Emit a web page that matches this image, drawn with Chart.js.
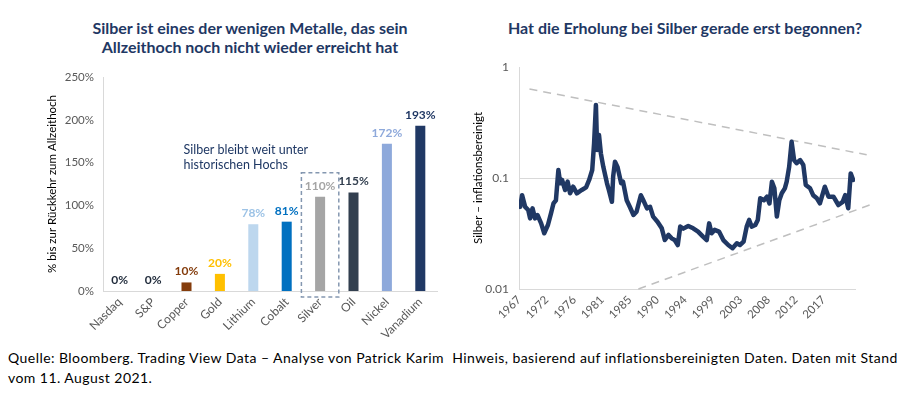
<!DOCTYPE html>
<html>
<head>
<meta charset="utf-8">
<script src="https://cdn.jsdelivr.net/npm/chart.js@4.4.1/dist/chart.umd.min.js"></script>
<style>
  html, body { margin: 0; padding: 0; background: #fff; }
  body { width: 919px; height: 397px; position: relative; overflow: hidden; font-family: Lato, "Open Sans", sans-serif; }
  .title { position: absolute; color: #1F3864; font-weight: bold; font-size: 16px; line-height: 19px; text-align: center; }
  #leftTitle { left: 40px; width: 420px; top: 18px; }
  #rightTitle { left: 460px; width: 450px; top: 18px; }
  .box { position: absolute; top: 0; height: 340px; }
  #leftBox { left: 0; width: 460px; }
  #rightBox { left: 460px; width: 459px; }
  #footer { position: absolute; left: 8px; top: 348px; width: 911px; font-size: 14px; letter-spacing: 0.45px; line-height: 20px; color: #000; white-space: nowrap; }
</style>
</head>
<body>
<div class="title" id="leftTitle">Silber ist eines der wenigen Metalle, das sein<br>Allzeithoch noch nicht wieder erreicht hat</div>
<div class="title" id="rightTitle">Hat die Erholung bei Silber gerade erst begonnen?</div>
<div class="box" id="leftBox"><canvas id="barChart" width="460" height="340"></canvas></div>
<div class="box" id="rightBox"><canvas id="lineChart" width="459" height="340"></canvas></div>
<div id="footer">Quelle: Bloomberg. Trading View Data – Analyse von Patrick Karim&nbsp; Hinweis, basierend auf inflationsbereinigten Daten. Daten mit Stand<br>vom 11. August 2021.</div>
<script>
// --- Balken: % bis zur Rueckkehr zum Allzeithoch
const metals = ["Nasdaq", "S&P", "Copper", "Gold", "Lithium", "Cobalt", "Silver", "Oil", "Nickel", "Vanadium"];
const pctToAth = [0, 0, 10, 20, 78, 81, 110, 115, 172, 193];
const barColors = ["#404040", "#404040", "#843C0C", "#FFC000", "#BDD7EE", "#0070C0", "#A5A5A5", "#323F4F", "#8EA9DB", "#203864"];
const labelColors = ["#1F2A3A", "#1F2A3A", "#843C0C", "#FFC000", "#9DC3E6", "#0070C0", "#A5A5A5", "#323F4F", "#8EA9DB", "#203864"];
const noteLines = ["Silber bleibt weit unter", "historischen Hochs"];

// --- Linie: Silber inflationsbereinigt (log)
const silverYears = [1967.0, 1967.2, 1967.5, 1968.0, 1968.5, 1968.8, 1969.2, 1969.6, 1970.0, 1970.6, 1971.1, 1971.7,
  1972.2, 1972.6, 1973.0, 1973.4, 1973.7, 1974.0, 1974.5, 1974.9, 1975.3, 1975.8, 1976.4, 1977.2, 1977.9, 1978.4,
  1978.9, 1979.2, 1979.5, 1979.7, 1980.0, 1980.3, 1980.7, 1981.3, 1981.6, 1982.1, 1982.3, 1982.6, 1983.0, 1983.6,
  1983.9, 1984.5, 1985.0, 1985.6, 1986.1, 1986.8, 1987.2, 1987.8, 1988.3, 1988.8, 1989.5, 1990.2, 1990.7, 1991.3,
  1991.8, 1992.3, 1992.8, 1993.2, 1993.7, 1994.5, 1995.3, 1996.1, 1996.9, 1997.5, 1997.9, 1998.3, 1998.8, 1999.5,
  2000.2, 2001.0, 2001.7, 2002.4, 2002.9, 2003.5, 2004.0, 2004.4, 2004.8, 2005.4, 2005.8, 2006.2, 2006.8, 2007.3,
  2007.7, 2008.1, 2008.5, 2008.9, 2009.3, 2009.7, 2010.2, 2010.5, 2010.9, 2011.3, 2011.7, 2012.1, 2012.7, 2013.2,
  2013.6, 2014.3, 2014.8, 2015.4, 2015.9, 2016.7, 2017.3, 2018.1, 2018.9, 2019.6, 2020.0, 2020.5, 2020.9, 2021.3,
  2021.6];
const silverReal = [0.058, 0.055, 0.070, 0.055, 0.0515, 0.0433, 0.0533, 0.0433, 0.0464, 0.039, 0.0318, 0.0377,
  0.048, 0.059, 0.063, 0.118, 0.0896, 0.096, 0.078, 0.0927, 0.0728, 0.0835, 0.0728, 0.078, 0.0824, 0.096,
  0.118, 0.205, 0.455, 0.179, 0.244, 0.167, 0.126, 0.0896, 0.078, 0.061, 0.103, 0.14, 0.126, 0.0896,
  0.0927, 0.063, 0.055, 0.0464, 0.0497, 0.070, 0.063, 0.0533, 0.055, 0.0449, 0.0404, 0.0352, 0.0276, 0.0307,
  0.0286, 0.0276, 0.0249, 0.0365, 0.035, 0.037, 0.0352, 0.0329, 0.0296, 0.0276, 0.039, 0.0318, 0.0341, 0.0329,
  0.0276, 0.0249, 0.0233, 0.0258, 0.0249, 0.0267, 0.0365, 0.0419, 0.0365, 0.0377, 0.0419, 0.0656, 0.063, 0.0679,
  0.059, 0.0927, 0.0807, 0.0449, 0.063, 0.0728, 0.0807, 0.0927, 0.126, 0.212, 0.145, 0.136, 0.145, 0.131,
  0.0865, 0.0807, 0.070, 0.0656, 0.059, 0.0835, 0.0679, 0.0679, 0.0571, 0.061, 0.070, 0.0533, 0.110, 0.096,
  0.099];
const upperTrend = [{ x: 1968.7, y: 0.634 }, { x: 2023.5, y: 0.162 }];
const lowerTrend = [{ x: 1986.4, y: 0.01 }, { x: 2024.6, y: 0.0587 }];
const yearTicks = [1967, 1971.5, 1976, 1980.5, 1985, 1989.5, 1994, 1998.5, 2003, 2007.5, 2012, 2016.5];
const yearTickLabels = ["1967", "1972", "1976", "1981", "1985", "1990", "1994", "1999", "2003", "2008", "2012", "2017"];
const logTicks = [0.01, 0.1, 1];
const logTickLabels = ["0.01", "0.1", "1"];

const FONT = "Lato, 'Open Sans', sans-serif";
const tickGrey = "#595959";
const axisGrey = "#D9D9D9";

Chart.defaults.font.family = FONT;
Chart.defaults.animation = false;

const barLabels = {
  id: "barLabels",
  afterDatasetsDraw(chart) {
    const { ctx, scales: { x, y } } = chart;
    const bars = chart.getDatasetMeta(0).data;
    ctx.save();
    ctx.font = "bold 12px " + FONT;
    ctx.textAlign = "center";
    ctx.textBaseline = "bottom";
    bars.forEach((bar, i) => {
      ctx.fillStyle = labelColors[i];
      ctx.fillText(pctToAth[i] + "%", bar.x, bar.y - 5);
    });
    // Notiz
    ctx.font = "12.5px " + FONT;
    ctx.fillStyle = "#1F3864";
    ctx.textAlign = "left";
    ctx.textBaseline = "middle";
    const nx = x.getPixelForValue(2) - 3;
    ctx.fillText(noteLines[0], nx, y.getPixelForValue(165));
    ctx.fillText(noteLines[1], nx, y.getPixelForValue(147));
    // gestrichelter Rahmen um Silber
    const s = bars[metals.indexOf("Silver")];
    const half = (x.getPixelForValue(1) - x.getPixelForValue(0)) * 0.56;
    const top = y.getPixelForValue(138);
    const bottom = y.getPixelForValue(0) + 6;
    ctx.strokeStyle = "#8497B0";
    ctx.lineWidth = 1.5;
    ctx.setLineDash([4, 3]);
    ctx.strokeRect(s.x - half, top, half * 2, bottom - top);
    ctx.restore();
  }
};

new Chart(document.getElementById("barChart"), {
  type: "bar",
  data: {
    labels: metals,
    datasets: [{
      data: pctToAth,
      backgroundColor: barColors,
      borderWidth: 0,
      categoryPercentage: 1,
      barPercentage: 0.3
    }]
  },
  options: {
    responsive: false,
    layout: { padding: { top: 77, right: 23, left: 0, bottom: 0 } },
    plugins: { legend: { display: false }, tooltip: { enabled: false } },
    scales: {
      x: {
        grid: { display: false, drawTicks: false },
        border: { color: axisGrey, width: 1 },
        ticks: { color: tickGrey, font: { size: 12 }, minRotation: 45, maxRotation: 45, padding: 4 },
        afterFit: (s) => { s.height = 49; }
      },
      y: {
        min: 0, max: 250,
        grid: { display: false, drawTicks: false },
        border: { color: axisGrey, width: 1 },
        ticks: { stepSize: 50, color: tickGrey, font: { size: 11.5 }, padding: 9, callback: (v) => v + "%" },
        title: { display: true, text: "% bis zur Rückkehr zum Allzeithoch", color: "#000", font: { size: 11.5 }, padding: { top: 45, bottom: 0 } },
        afterFit: (s) => { s.width = 103; }
      }
    }
  },
  plugins: [barLabels]
});

new Chart(document.getElementById("lineChart"), {
  type: "line",
  data: {
    datasets: [
      {
        data: silverYears.map((yr, i) => ({ x: yr, y: silverReal[i] })),
        borderColor: "#203864",
        borderWidth: 4.5,
        pointRadius: 0,
        tension: 0,
        borderJoinStyle: "round",
        order: 1
      },
      {
        data: upperTrend,
        borderColor: "#BFBFBF",
        borderWidth: 1.5,
        borderDash: [8, 6],
        pointRadius: 0,
        clip: false,
        order: 2
      },
      {
        data: lowerTrend,
        borderColor: "#BFBFBF",
        borderWidth: 1.5,
        borderDash: [8, 6],
        pointRadius: 0,
        clip: false,
        order: 2
      }
    ]
  },
  options: {
    responsive: false,
    layout: { padding: { top: 67, right: 64, left: 0, bottom: 0 } },
    plugins: { legend: { display: false }, tooltip: { enabled: false } },
    scales: {
      x: {
        type: "linear",
        min: 1967, max: 2021.6,
        grid: { display: false, drawTicks: false },
        border: { color: axisGrey, width: 1 },
        afterBuildTicks: (s) => { s.ticks = yearTicks.map((v) => ({ value: v })); },
        ticks: {
          color: tickGrey, font: { size: 11.5 }, minRotation: 45, maxRotation: 45, padding: 4, autoSkip: false,
          callback: (v, i) => yearTickLabels[i]
        },
        afterFit: (s) => { s.height = 51; }
      },
      y: {
        type: "logarithmic",
        min: 0.01, max: 1,
        afterBuildTicks: (s) => { s.ticks = logTicks.map((v) => ({ value: v })); },
        grid: {
          drawTicks: false,
          color: (c) => (c.tick && c.tick.value === 0.1 ? axisGrey : "rgba(0,0,0,0)")
        },
        border: { color: axisGrey, width: 1 },
        ticks: { color: tickGrey, font: { size: 12 }, padding: 10, callback: (v, i) => logTickLabels[i] },
        title: { display: true, text: "Silber – inflationsbereinigt", color: "#000", font: { size: 11.5 }, padding: { top: 11, bottom: 0 } },
        afterFit: (s) => { s.width = 59; }
      }
    }
  }
});
</script>
</body>
</html>
